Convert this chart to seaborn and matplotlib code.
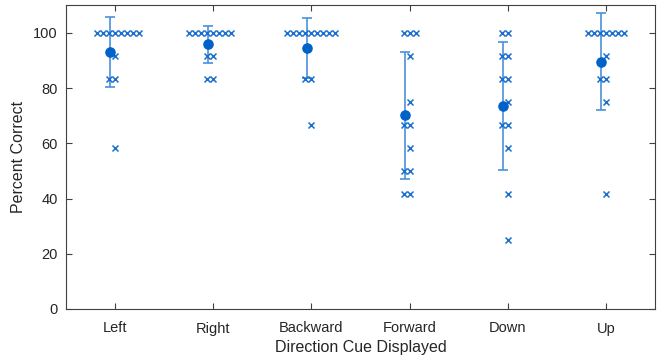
import numpy as np
import pandas as pd
import matplotlib
matplotlib.use("Agg")
import matplotlib.pyplot as plt
import seaborn as sns

categories = ["Left", "Right", "Backward", "Forward", "Down", "Up"]

# Percent correct per participant (12 trials -> multiples of 100/12)
left = [100, 100, 100, 100, 100, 100, 100, 100, 91.67, 83.33, 83.33, 58.33]
right = [100, 100, 100, 100, 100, 100, 100, 100, 91.67, 91.67, 83.33, 83.33]
backward = [100, 100, 100, 100, 100, 100, 100, 100, 100, 83.33, 83.33, 66.67]
forward = [100, 100, 100, 91.67, 75, 66.67, 66.67, 58.33, 50, 50, 41.67, 41.67]
down = [100, 100, 91.67, 91.67, 83.33, 83.33, 75, 66.67, 66.67, 58.33, 41.67, 25]
up = [100, 100, 100, 100, 100, 100, 100, 91.67, 83.33, 83.33, 75, 41.67]

yticks = [0, 20, 40, 60, 80, 100]

series = [left, right, backward, forward, down, up]
df = pd.DataFrame({
    "cue": np.repeat(categories, [len(s) for s in series]),
    "pct": np.concatenate(series),
})

sns.set_theme(style="white")
plt.rcParams["font.family"] = ["Liberation Sans", "DejaVu Sans"]

fig = plt.figure(figsize=(6.58, 3.6), dpi=100)
ax = fig.add_axes([66 / 658, 1 - 309 / 360, 589 / 658, 303.7 / 360])

mark_col = "#1a6fd0"
dot_col = "#0062c8"
err_col = "#4a90dc"

n_before = len(ax.collections)
sns.swarmplot(data=df, x="cue", y="pct", order=categories, marker="x",
              size=3.1, color=mark_col, linewidth=1.0, ax=ax, zorder=3)
swarm_cols = ax.collections[n_before:]

stats = df.groupby("cue", sort=False)["pct"].agg(["mean", "std"]).reindex(categories)
pos = np.arange(len(categories)) - 0.05
ax.errorbar(pos, stats["mean"], yerr=stats["std"], fmt="none",
            ecolor=err_col, elinewidth=1.2, capsize=3.8, capthick=1.2, zorder=2)
ax.plot(pos, stats["mean"], "o", color=dot_col, markersize=6.6, zorder=4)

ax.set_xlim(-0.5, len(categories) - 0.5)
ax.set_ylim(0, 110)
ax.set_yticks(yticks)
ax.set_xticks(range(len(categories)))
ax.set_xticklabels(categories)
ax.set_xlabel("Direction Cue Displayed", fontsize=11.5, color="#262626", labelpad=3)
ax.set_ylabel("Percent Correct", fontsize=11.5, color="#262626", labelpad=5)
ax.tick_params(axis="both", direction="in", length=4, width=0.8, color="#404040",
               labelsize=10.5, labelcolor="#262626", top=True, right=True,
               bottom=True, left=True)
ax.tick_params(axis="x", pad=9)
ax.tick_params(axis="y", pad=6)
for sp in ax.spines.values():
    sp.set_visible(True)
    sp.set_color("#404040")
    sp.set_linewidth(0.8)

# Let seaborn lay out the swarm, then freeze it and draw slightly larger crosses
fig.canvas.draw()
for c in swarm_cols:
    if "draw" in c.__dict__:
        del c.__dict__["draw"]
    c.set_sizes([4.3 ** 2])
    c.set_linewidth(1.1)

fig.savefig("out.png", dpi=100)
